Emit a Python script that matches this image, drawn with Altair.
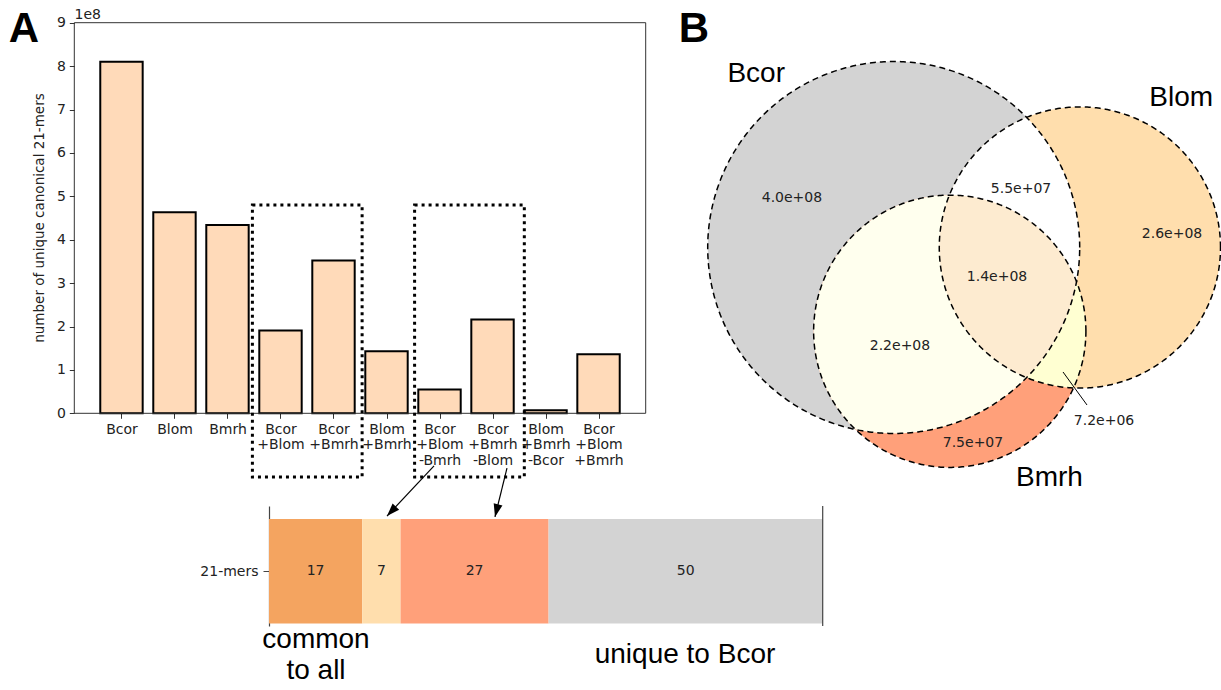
import math

import altair as alt
import numpy as np
import pandas as pd

# ---------------- data ----------------
# Panel A: number of unique canonical 21-mers per genome combination
combo_labels = ["Bcor", "Blom", "Bmrh", "Bcor\n+Blom", "Bcor\n+Bmrh", "Blom\n+Bmrh",
                "Bcor\n+Blom\n-Bmrh", "Bcor\n+Bmrh\n-Blom", "Blom\n+Bmrh\n-Bcor",
                "Bcor\n+Blom\n+Bmrh"]
combo_counts = [8.10e8, 4.63e8, 4.34e8, 1.91e8, 3.52e8, 1.43e8, 0.55e8, 2.16e8, 0.072e8, 1.36e8]

# Panel A: share of Bcor 21-mers (percent)
share_names = ["common to all", "Bcor+Blom-Bmrh", "Bcor+Bmrh-Blom", "unique to Bcor"]
share_pct = [17, 7, 27, 50]
share_colors = ["#F4A460", "#FFDEAD", "#FFA07A", "#D3D3D3"]

# Panel B: Venn diagram
set_names = ["Bcor", "Blom", "Bmrh"]
set_sizes = [8.10e8, 4.63e8, 4.34e8]
region_members = [[0], [1], [2], [0, 1], [0, 2], [1, 2], [0, 1, 2]]
region_counts = [4.0e8, 2.6e8, 7.5e7, 5.5e7, 2.2e8, 7.2e6, 1.4e8]

# ---------------- layout ----------------
W, H = 1221, 690
FONT = "DejaVu Sans"
BIG = "Liberation Sans"
INK = "#222222"
SMALL = 14

# bar panel scales (values shown in units of 1e8)
bx = alt.Scale(domain=[-0.89, 9.89], range=[74.3, 645.7], nice=False, zero=False)
by = alt.Scale(domain=[0, 9], range=[413.3, 22.7], nice=False, zero=False)

# stacked share bar scales
share_total = sum(share_pct)
sx_rng = [269.0, 822.7]
sy_dom = [-0.42, 0.5]
sy_rng = [626.0, 506.0]
sx = alt.Scale(domain=[0, share_total], range=sx_rng, nice=False, zero=False)
sy = alt.Scale(domain=sy_dom, range=sy_rng, nice=False, zero=False)

# Venn scales: one unit = radius of a circle of area 1e8 * pi
vx = alt.Scale(domain=[-3, 6], range=[697.65, 1285.8], nice=False, zero=False)
vy = alt.Scale(domain=[-4, 4], range=[508.9, -13.9], nice=False, zero=False)
venn_centers = [(0.0, 0.0), (2.849, 0.0), (0.858, -1.282)]
venn_radii = [math.sqrt(s / 1e8) for s in set_sizes]

layers = []

# ---------------- bar panel ----------------
bar_df = pd.DataFrame({
    "idx": range(len(combo_labels)),
    "label": combo_labels,
    "v": [c / 1e8 for c in combo_counts],
})
bar_df["x0"] = bar_df["idx"] - 0.4
bar_df["x1"] = bar_df["idx"] + 0.4
bar_df["base"] = 0.0

label_expr = "[" + ",".join(
    "[" + ",".join("'" + part + "'" for part in lab.split("\n")) + "]" for lab in combo_labels
) + "][datum.value]"

bars = alt.Chart(bar_df).mark_rect(fill="#FFDAB9", stroke="black", strokeWidth=2).encode(
    x=alt.X("x0:Q", scale=bx, axis=alt.Axis(
        orient="bottom", offset=-(H - 413.3), values=list(range(len(combo_labels))),
        labelExpr=label_expr, domain=False, grid=False, title=None,
        tickSize=5, tickColor="#333333", labelPadding=4, labelFont=FONT, labelFontSize=SMALL,
        labelColor=INK, labelLineHeight=15.5, labelAngle=0, labelFlush=False,
        labelOverlap=False)),
    x2="x1:Q",
    y=alt.Y("base:Q", scale=by, axis=alt.Axis(
        orient="left", offset=-74.3, values=list(range(10)), format="d", domain=False,
        grid=False, tickSize=5, tickColor="#333333", labelPadding=4, labelFont=FONT,
        labelFontSize=SMALL, labelColor=INK, labelFlush=False, title=None)),
    y2="v:Q",
)
layers.append(bars)

frame_df = pd.DataFrame({"x0": [bx.domain[0]], "x1": [bx.domain[1]], "y0": [0], "y1": [9]})
frame = alt.Chart(frame_df).mark_rect(fill="transparent", stroke="#333333", strokeWidth=1).encode(
    x=alt.X("x0:Q", scale=bx, axis=None), x2="x1:Q",
    y=alt.Y("y0:Q", scale=by, axis=None), y2="y1:Q",
)
layers.append(frame)

# y-axis title of the bar panel, centred on the value range
ytitle_df = pd.DataFrame({"txt": ["number of unique canonical 21-mers"], "y": [4.5]})
ytitle = alt.Chart(ytitle_df).mark_text(font=FONT, fontSize=13.5, color=INK, angle=270).encode(
    x=alt.value(40),
    y=alt.Y("y:Q", scale=by, axis=None),
    text="txt:N",
)
layers.append(ytitle)

# dotted boxes grouping the pairwise columns
box_df = pd.DataFrame({"x0": [2.47, 5.53], "x1": [4.54, 7.60], "y0": [-1.47, -1.47], "y1": [4.8, 4.8]})
boxes = alt.Chart(box_df).mark_rect(fill="transparent", stroke="black", strokeWidth=3,
                                     strokeDash=[3, 4]).encode(
    x=alt.X("x0:Q", scale=bx, axis=None), x2="x1:Q",
    y=alt.Y("y0:Q", scale=by, axis=None), y2="y1:Q",
)
layers.append(boxes)

# ---------------- stacked share bar ----------------
starts = np.cumsum([0] + share_pct[:-1])
share_df = pd.DataFrame({
    "name": share_names, "pct": share_pct, "color": share_colors,
    "start": starts, "end": starts + np.array(share_pct),
})
share_df["mid"] = (share_df["start"] + share_df["end"]) / 2
share_df["y0"] = -0.4
share_df["y1"] = 0.4
share_df["yc"] = 0.0
share_df["txt"] = share_df["pct"].astype(str)

segs = alt.Chart(share_df).mark_rect().encode(
    x=alt.X("start:Q", scale=sx, axis=None), x2="end:Q",
    y=alt.Y("y0:Q", scale=sy, axis=alt.Axis(
        orient="left", offset=-sx_rng[0], values=[0], labelExpr="'21-mers'", grid=False,
        title=None, domain=True, domainColor="#444444", domainWidth=1.2, tickSize=6,
        tickColor="#444444", labelPadding=5, labelFont=FONT, labelFontSize=SMALL,
        labelColor=INK)),
    y2="y1:Q",
    color=alt.Color("color:N", scale=None),
)
layers.append(segs)

seg_text = alt.Chart(share_df).mark_text(font=FONT, fontSize=SMALL, color=INK).encode(
    x=alt.X("mid:Q", scale=sx, axis=None),
    y=alt.Y("yc:Q", scale=sy, axis=None),
    text="txt:N",
)
layers.append(seg_text)

spine_df = pd.DataFrame({"x": [share_total], "y0": [sy_dom[0]], "y1": [sy_dom[1]]})
spine = alt.Chart(spine_df).mark_rule(color="#444444", strokeWidth=1.2).encode(
    x=alt.X("x:Q", scale=sx, axis=None),
    y=alt.Y("y0:Q", scale=sy, axis=None), y2="y1:Q",
)
layers.append(spine)

# arrows from the boxed columns to their segments
arrow_df = pd.DataFrame({
    "x0": [30.10, 43.41], "y0": [0.807, 0.791],
    "x1": [21.52, 41.22], "y1": [0.423, 0.416],
})
ppx = (sx_rng[1] - sx_rng[0]) / share_total
ppy = (sy_rng[0] - sy_rng[1]) / (sy_dom[1] - sy_dom[0])
arrow_df["ang"] = [
    math.degrees(math.atan2((x1 - x0) * ppx, (y1 - y0) * ppy)) % 360
    for x0, y0, x1, y1 in zip(arrow_df.x0, arrow_df.y0, arrow_df.x1, arrow_df.y1)
]
arrow_lines = alt.Chart(arrow_df).mark_rule(color="black", strokeWidth=1.2).encode(
    x=alt.X("x0:Q", scale=sx, axis=None), x2="x1:Q",
    y=alt.Y("y0:Q", scale=sy, axis=None), y2="y1:Q",
)
arrow_heads = alt.Chart(arrow_df).mark_point(
    shape="M0,0L-0.45,1.3L0.45,1.3Z", filled=True, size=400, color="black", opacity=1
).encode(
    x=alt.X("x1:Q", scale=sx, axis=None),
    y=alt.Y("y1:Q", scale=sy, axis=None),
    angle=alt.Angle("ang:Q", scale=None),
)
layers += [arrow_lines, arrow_heads]

# ---------------- Venn diagram ----------------
def region_band(members, n=900):
    x_lo = max(venn_centers[i][0] - venn_radii[i] for i in members)
    x_hi = min(venn_centers[i][0] + venn_radii[i] for i in members)
    xs = np.linspace(x_lo, x_hi, n)
    lo = np.full(n, -np.inf)
    hi = np.full(n, np.inf)
    for i in members:
        cx, cy = venn_centers[i]
        r = venn_radii[i]
        h = np.sqrt(np.clip(r * r - (xs - cx) ** 2, 0, None))
        lo = np.maximum(lo, cy - h)
        hi = np.minimum(hi, cy + h)
    keep = hi >= lo
    return pd.DataFrame({"x": xs[keep], "lo": lo[keep], "hi": hi[keep]})

# painter's order: whole circles first, then pairwise lenses, then the triple core
paint_order = [((0,), "#D3D3D3"), ((1,), "#FFDEAD"), ((2,), "#FFA07A"),
               ((0, 2), "#FFFFEE"), ((1, 2), "#FFFFD2"), ((0, 1), "#FFFFFF"),
               ((0, 1, 2), "#FDEBD0")]
for members, fill in paint_order:
    band = region_band(list(members))
    layers.append(
        alt.Chart(band).mark_area(color=fill, opacity=1, strokeWidth=0).encode(
            x=alt.X("x:Q", scale=vx, axis=None),
            y=alt.Y("lo:Q", scale=vy, axis=None),
            y2="hi:Q",
        )
    )

theta = np.linspace(0, 2 * np.pi, 481)
outline_rows = []
for k, name in enumerate(set_names):
    cx, cy = venn_centers[k]
    r = venn_radii[k]
    for j, t in enumerate(theta):
        outline_rows.append({"set": name, "o": j, "x": cx + r * np.cos(t), "y": cy + r * np.sin(t)})
outlines = alt.Chart(pd.DataFrame(outline_rows)).mark_line(
    color="black", strokeWidth=1.5, strokeDash=[6, 4]
).encode(
    x=alt.X("x:Q", scale=vx, axis=None),
    y=alt.Y("y:Q", scale=vy, axis=None),
    detail="set:N",
    order="o:Q",
)
layers.append(outlines)

region_label_pos = [(-1.557, 0.757), (4.259, 0.207), (1.213, -2.992), (1.948, 0.895),
                    (0.096, -1.507), (3.219, -2.655), (1.581, -0.451)]
venn_text_df = pd.DataFrame({
    "txt": [f"{v:.1e}" for v in region_counts],
    "x": [p[0] for p in region_label_pos],
    "y": [p[1] for p in region_label_pos],
})
venn_text = alt.Chart(venn_text_df).mark_text(font=FONT, fontSize=SMALL, color=INK).encode(
    x=alt.X("x:Q", scale=vx, axis=None),
    y=alt.Y("y:Q", scale=vy, axis=None),
    text="txt:N",
)
layers.append(venn_text)

leader_df = pd.DataFrame({"x0": [2.591], "y0": [-1.905], "x1": [2.958], "y1": [-2.410]})
leader = alt.Chart(leader_df).mark_rule(color="black", strokeWidth=1).encode(
    x=alt.X("x0:Q", scale=vx, axis=None), x2="x1:Q",
    y=alt.Y("y0:Q", scale=vy, axis=None), y2="y1:Q",
)
layers.append(leader)

set_label_pos = [(-2.104, 2.655), (4.400, 2.287), (2.384, -3.527)]
set_label_df = pd.DataFrame({
    "txt": set_names,
    "x": [p[0] for p in set_label_pos],
    "y": [p[1] for p in set_label_pos],
})
set_labels = alt.Chart(set_label_df).mark_text(font=BIG, fontSize=28, color="black").encode(
    x=alt.X("x:Q", scale=vx, axis=None),
    y=alt.Y("y:Q", scale=vy, axis=None),
    text="txt:N",
)
layers.append(set_labels)

# ---------------- free annotations (pixel placement) ----------------
notes_df = pd.DataFrame({
    "txt": ["common", "to all", "unique to Bcor"],
    "px": [316, 316, 685],
    "py": [640, 671, 655],
})
notes = alt.Chart(notes_df).mark_text(font=BIG, fontSize=28, color="black").encode(
    x=alt.X("px:Q", scale=None, axis=None),
    y=alt.Y("py:Q", scale=None, axis=None),
    text="txt:N",
)
layers.append(notes)

panel_df = pd.DataFrame({"txt": ["A", "B"], "px": [24, 694], "py": [29, 29]})
panels = alt.Chart(panel_df).mark_text(font=BIG, fontSize=42, fontWeight="bold", color="black").encode(
    x=alt.X("px:Q", scale=None, axis=None),
    y=alt.Y("py:Q", scale=None, axis=None),
    text="txt:N",
)
layers.append(panels)

exp_df = pd.DataFrame({"txt": ["1e8"], "px": [74.5], "py": [15]})
exp_text = alt.Chart(exp_df).mark_text(font=FONT, fontSize=SMALL, color=INK, align="left").encode(
    x=alt.X("px:Q", scale=None, axis=None),
    y=alt.Y("py:Q", scale=None, axis=None),
    text="txt:N",
)
layers.append(exp_text)

chart = (
    alt.layer(*layers)
    .resolve_scale(x="independent", y="independent")
    .resolve_axis(x="independent", y="independent")
    .properties(width=W, height=H, padding=0, autosize=alt.AutoSizeParams(type="none"),
                background="white")
    .configure_view(stroke=None)
)

chart.save("out.html", embed_options={"renderer": "svg", "actions": False})
